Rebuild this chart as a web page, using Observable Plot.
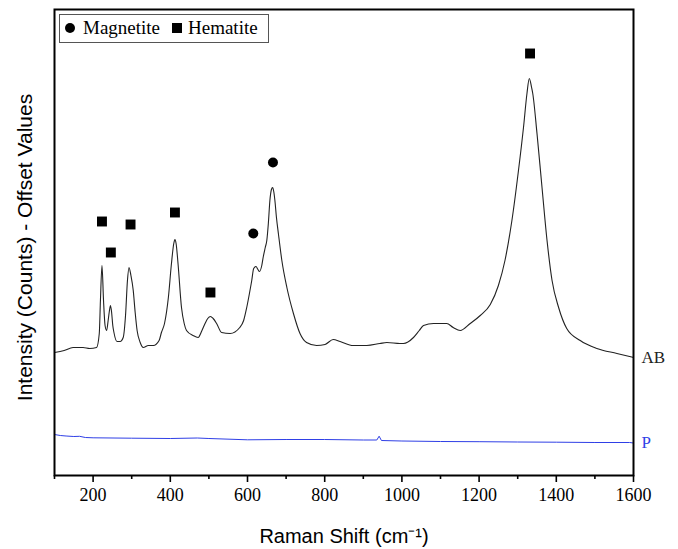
<!DOCTYPE html>
<html>
<head>
<meta charset="utf-8">
<script src="https://cdn.jsdelivr.net/npm/d3@7"></script>
<script src="https://cdn.jsdelivr.net/npm/@observablehq/plot@0.6"></script>
<style>
  body { margin: 0; background: #fff; }
  #wrap { position: relative; width: 678px; height: 549px; }
  #legend { position: absolute; left: 59px; top: 14px; width: 208px; height: 27px; border: 1px solid #555; background: #fff;
            font-family: "Liberation Serif", "Times New Roman", serif; font-size: 19px; color: #000; }
  #legend .sym { position: absolute; background: #000; }
  #legend .lbl { position: absolute; top: 3px; line-height: 19px; white-space: nowrap; }
</style>
</head>
<body>
<div id="wrap">
  <div id="chart"></div>
  <div id="legend">
    <span class="sym" style="left:5px;top:8px;width:10px;height:10px;border-radius:50%;"></span>
    <span class="lbl" style="left:23px;">Magnetite</span>
    <span class="sym" style="left:112px;top:8px;width:10px;height:10px;"></span>
    <span class="lbl" style="left:128px;">Hematite</span>
  </div>
</div>
<script>
// Sample AB spectrum (Raman shift in cm-1, intensity offset in arbitrary counts)
const abShift = [100,125,148,174,191,209,216,219,223,227,231,235,239,242,245,248,251,254,262,270,278,284,289,293,298,304,309,314,322,330,343,356,371,377,385,395,403,409,412,415,420,429,436,442,459,472,482,490,497,504,511,520,533,555,580,590,598,605,611,616,622,627,631,637,641,646,650,654,658,662,665,668,671,675,680,689,702,719,736,753,779,801,822,840,874,909,943,961,995,1004,1030,1045,1056,1082,1116,1133,1151,1177,1203,1229,1250,1267,1285,1302,1315,1324,1330,1336,1339,1350,1363,1376,1389,1406,1427,1462,1505,1557,1600];
const abIntensity = [123,125,128,128,127,128,142,175,210,175,150,145,155,164,170,163,150,143,134,134,138,160,195,208,200,185,163,145,133,128,130,130,135,143,152,178,212,232,236,232,212,168,152,145,140,138,145,152,157,159,157,152,143,142,148,155,168,182,195,207,209,206,204,210,219,228,235,252,275,286,288,284,275,258,242,215,188,162,142,133,130,131,136,134,130,130,132,133,132,132,138,145,150,152,152,148,145,152,160,171,190,215,255,305,348,382,397,388,382,342,288,235,195,168,147,135,127,122,118];

// Sample P spectrum
const pShift = [100,115,130,150,165,180,200,300,400,470,500,600,700,800,900,935,941,947,1000,1100,1200,1300,1400,1500,1590,1600];
const pIntensity = [41,40,39.5,39,39.2,38,37.7,37.3,37,37.5,37,35.7,36,36,35.5,35.5,39.3,35,34.5,34,33.8,33.5,33.3,33,33,32.5];

// Peak markers
const hematiteShift = [223,246,297,412,504,1332];
const hematiteY = [254,223,251,263,183,422];
const magnetiteShift = [615,666];
const magnetiteY = [242,313];

const majorTicks = [200,400,600,800,1000,1200,1400,1600];
const minorTicks = [100,300,500,700,900,1100,1300,1500];

const seriesNames = ["AB","P"];
const seriesColors = ["#222222","#2f3fe6"];

const ab = abShift.map((x,i)=>({x, y: abIntensity[i]}));
const p = pShift.map((x,i)=>({x, y: pIntensity[i]}));
const hem = hematiteShift.map((x,i)=>({x, y: hematiteY[i]}));
const mag = magnetiteShift.map((x,i)=>({x, y: magnetiteY[i]}));
const ends = [
  {x: abShift[abShift.length-1], y: abIntensity[abIntensity.length-1], name: seriesNames[0], color: seriesColors[0]},
  {x: pShift[pShift.length-1], y: pIntensity[pIntensity.length-1], name: seriesNames[1], color: seriesColors[1]}
];

const serif = "Liberation Serif";
const sans = "Liberation Sans";

const chart = Plot.plot({
  width: 678, height: 549,
  marginLeft: 54, marginRight: 45, marginTop: 9, marginBottom: 74,
  style: {background: "white", color: "black"},
  x: {domain: [100, 1600]},
  y: {domain: [0, 466], axis: null},
  marks: [
    Plot.line(p, {x: "x", y: "y", stroke: seriesColors[1], strokeWidth: 1, curve: "linear"}),
    Plot.line(ab, {x: "x", y: "y", stroke: seriesColors[0], strokeWidth: 1.1, curve: "monotone-x"}),
    Plot.dot(hem, {x: "x", y: "y", symbol: "square", r: 5.6, fill: "black", stroke: null}),
    Plot.dot(mag, {x: "x", y: "y", symbol: "circle", r: 5, fill: "black", stroke: null}),
    Plot.text(ends, {x: "x", y: "y", text: "name", fill: "color", dx: 8, textAnchor: "start", fontSize: 17, fontFamily: serif}),
    Plot.frame({stroke: "black", strokeWidth: 2}),
    Plot.axisX(majorTicks, {tickSize: 7, strokeWidth: 1.6, tickFormat: () => "", label: null}),
    Plot.axisX(minorTicks, {tickSize: 4, strokeWidth: 1.6, tickFormat: () => "", label: null}),
    Plot.text(majorTicks, {x: d => d, text: d => String(d), frameAnchor: "bottom", dy: 25, fontSize: 18, fontFamily: serif, fill: "black"}),
    Plot.text(["Raman Shift (cm⁻¹)"], {frameAnchor: "bottom", dy: 67, fontSize: 20, fontFamily: sans}),
    Plot.text(["Intensity (Counts) - Offset Values"], {frameAnchor: "left", textAnchor: "middle", dx: -29, dy: 5, rotate: -90, fontSize: 21, fontFamily: sans})
  ]
});
document.getElementById("chart").appendChild(chart);
</script>
</body>
</html>
